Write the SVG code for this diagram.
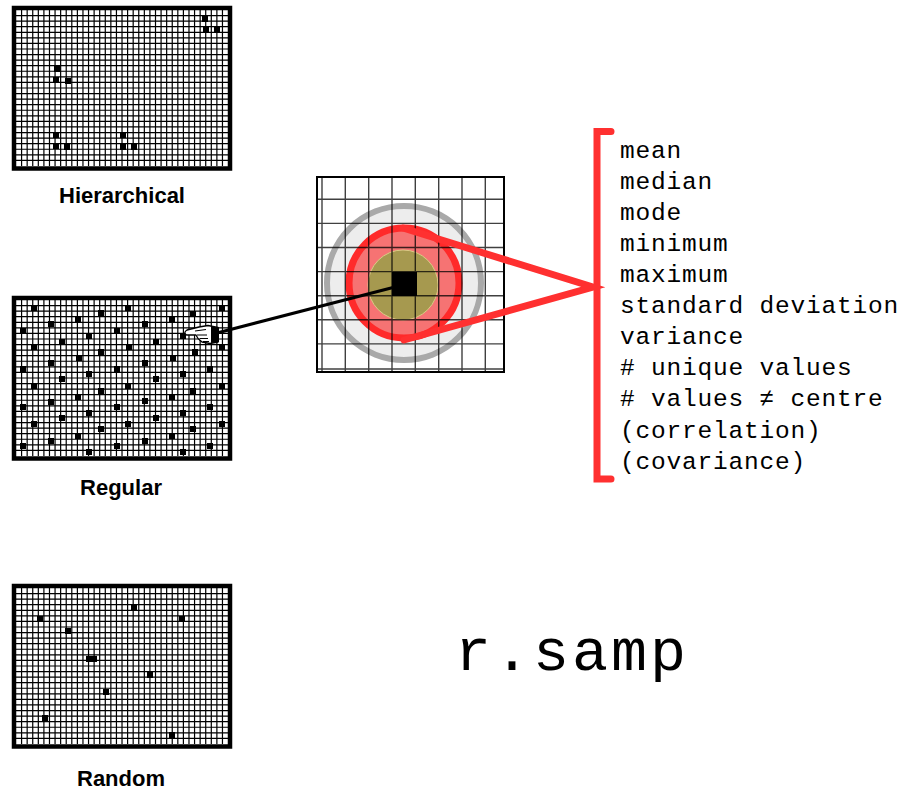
<svg xmlns="http://www.w3.org/2000/svg" xmlns:xlink="http://www.w3.org/1999/xlink" width="901" height="791" viewBox="0 0 901 791">
<style>
.gl{fill:none;stroke:#000;stroke-width:1.2}
.d{fill:#000}
.lbl{font-family:"Liberation Sans",Arial,sans-serif;font-weight:bold;font-size:22px;fill:#000;text-anchor:middle}
.mono{font-family:"Liberation Mono","Courier New",monospace;fill:#000}
.cg{fill:none;stroke:#000;stroke-width:1.4;stroke-opacity:0.75}
.red{fill:none;stroke:#ff3030;stroke-width:7;stroke-linecap:round}
</style>
<defs>
<g id="grid">
<rect x="14" y="8" width="216" height="160.5" fill="#fff"/>
<path class="gl" d="M21.58,10v156m5.58-156v156m5.58-156v156m5.58-156v156m5.58-156v156m5.58-156v156m5.58-156v156m5.58-156v156m5.58-156v156m5.58-156v156m5.58-156v156m5.58-156v156m5.58-156v156m5.58-156v156m5.58-156v156m5.58-156v156m5.58-156v156m5.58-156v156m5.58-156v156m5.58-156v156m5.58-156v156m5.58-156v156m5.58-156v156m5.58-156v156m5.58-156v156m5.58-156v156m5.58-156v156m5.58-156v156m5.58-156v156m5.58-156v156m5.58-156v156m5.58-156v156m5.58-156v156m5.58-156v156m5.58-156v156m5.58-156v156m5.58-156v156"/>
<path class="gl" d="M16,15.57h212m-212,5.57h212m-212,5.57h212m-212,5.57h212m-212,5.57h212m-212,5.57h212m-212,5.57h212m-212,5.57h212m-212,5.57h212m-212,5.57h212m-212,5.57h212m-212,5.57h212m-212,5.57h212m-212,5.57h212m-212,5.57h212m-212,5.57h212m-212,5.57h212m-212,5.57h212m-212,5.57h212m-212,5.57h212m-212,5.57h212m-212,5.57h212m-212,5.57h212m-212,5.57h212m-212,5.57h212m-212,5.57h212m-212,5.57h212"/>
<rect x="14" y="8" width="216" height="160.5" fill="none" stroke="#000" stroke-width="4.5"/>
</g>
</defs>

<g id="hierarchical">
<use xlink:href="#grid" href="#grid"/>
<g class="d">
<rect x="202" y="16" width="6" height="6"/><rect x="203" y="27" width="6" height="6"/><rect x="214" y="27" width="6" height="6"/>
<rect x="54" y="66" width="6" height="6"/><rect x="53" y="77" width="6" height="6"/><rect x="65" y="78" width="6" height="6"/>
<rect x="53" y="132" width="6" height="6"/><rect x="53" y="143" width="6" height="6"/><rect x="64" y="144" width="6" height="6"/>
<rect x="120" y="132" width="6" height="6"/><rect x="120" y="144" width="6" height="6"/><rect x="131" y="144" width="6" height="6"/>
</g>
<text class="lbl" x="122" y="203">Hierarchical</text>
</g>

<g id="regular">
<use xlink:href="#grid" href="#grid" transform="translate(0,290)"/>
<g class="d">
<rect x="31" y="305" width="6" height="6"/><rect x="98" y="310" width="6" height="6"/><rect x="125" y="305" width="6" height="6"/><rect x="190" y="311" width="6" height="6"/><rect x="219" y="305" width="6" height="6"/>
<rect x="75" y="316" width="6" height="6"/><rect x="169" y="316" width="6" height="6"/>
<rect x="48" y="321" width="6" height="6"/><rect x="142" y="321" width="6" height="6"/>
<rect x="20" y="328" width="6" height="6"/><rect x="114" y="328" width="6" height="6"/>
<rect x="86" y="333" width="6" height="6"/><rect x="180" y="333" width="6" height="6"/>
<rect x="59" y="339" width="6" height="6"/><rect x="153" y="339" width="6" height="6"/>
<rect x="31" y="344" width="6" height="6"/><rect x="126" y="344" width="6" height="6"/><rect x="219" y="344" width="6" height="6"/>
<rect x="98" y="349" width="6" height="6"/><rect x="192" y="349" width="6" height="6"/>
<rect x="76" y="355" width="6" height="6"/><rect x="170" y="355" width="6" height="6"/>
<rect x="48" y="360" width="6" height="6"/><rect x="142" y="360" width="6" height="6"/>
<rect x="20" y="366" width="6" height="6"/><rect x="114" y="366" width="6" height="6"/><rect x="207" y="366" width="6" height="6"/>
<rect x="86" y="371" width="6" height="6"/><rect x="180" y="371" width="6" height="6"/>
<rect x="59" y="376" width="6" height="6"/><rect x="153" y="376" width="6" height="6"/>
<rect x="31" y="383" width="6" height="6"/><rect x="125" y="383" width="6" height="6"/><rect x="219" y="383" width="6" height="6"/>
<rect x="98" y="388" width="6" height="6"/><rect x="190" y="388" width="6" height="6"/>
<rect x="75" y="394" width="6" height="6"/><rect x="169" y="394" width="6" height="6"/>
<rect x="48" y="399" width="6" height="6"/><rect x="142" y="398" width="6" height="6"/>
<rect x="20" y="404" width="6" height="6"/><rect x="114" y="404" width="6" height="6"/><rect x="207" y="404" width="6" height="6"/>
<rect x="86" y="410" width="6" height="6"/><rect x="180" y="410" width="6" height="6"/>
<rect x="59" y="415" width="6" height="6"/><rect x="153" y="415" width="6" height="6"/>
<rect x="31" y="421" width="6" height="6"/><rect x="125" y="421" width="6" height="6"/><rect x="219" y="421" width="6" height="6"/>
<rect x="98" y="426" width="6" height="6"/><rect x="190" y="426" width="6" height="6"/>
<rect x="75" y="433" width="6" height="6"/><rect x="169" y="433" width="6" height="6"/>
<rect x="48" y="438" width="6" height="6"/><rect x="142" y="438" width="6" height="6"/>
<rect x="20" y="443" width="6" height="6"/><rect x="114" y="443" width="6" height="6"/><rect x="207" y="443" width="6" height="6"/>
<rect x="86" y="449" width="6" height="6"/><rect x="180" y="449" width="6" height="6"/>
</g>
<g id="hand">
<path d="M218,327.5 L208,325.5 L199,327 L187,330 Q183,332.5 186.5,335 L196,335 L198,338.5 L202,342 L210,343.5 L218,342 Z" fill="#fff" stroke="#000" stroke-width="1.3" stroke-linejoin="round"/>
<path d="M197,335 L207,335 M199.5,338.5 L208,338.5 M203,341.5 L209,341.5 M195,331 L206,329.5" fill="none" stroke="#000" stroke-width="1.1"/>
<path d="M211,326.5 L219,327.5 L219,342 L211,343 Z" fill="#000"/>
</g>
<text class="lbl" x="121" y="495">Regular</text>
</g>

<g id="random">
<use xlink:href="#grid" href="#grid" transform="translate(0,578)"/>
<g class="d">
<rect x="131" y="605" width="6" height="6"/><rect x="37" y="616" width="6" height="6"/><rect x="179" y="616" width="6" height="6"/>
<rect x="65" y="628" width="6" height="6"/><rect x="86" y="656" width="11" height="6"/><rect x="147" y="672" width="6" height="6"/>
<rect x="103" y="689" width="6" height="6"/><rect x="42" y="715" width="6" height="6"/><rect x="169" y="732" width="6" height="6"/>
</g>
<text class="lbl" x="121" y="786">Random</text>
</g>

<g id="neighbourhood">
<rect x="317" y="177" width="187" height="195" fill="#fff"/>
<circle cx="404" cy="283" r="77" fill="#ededed" stroke="#a9a9a9" stroke-width="6"/>
<circle cx="404" cy="283" r="55" fill="#f67373" stroke="#ff2a2a" stroke-width="7"/>
<circle cx="403" cy="285" r="35" fill="#a6994f" stroke="#d9cb85" stroke-width="1"/>
<path class="cg" d="M322,177v195M345.3,177v195M368.7,177v195M392,177v195M415.3,177v195M438.7,177v195M462,177v195M485.3,177v195M317,199.3h187M317,223.4h187M317,247.5h187M317,271.6h187M317,295.7h187M317,319.8h187M317,343.9h187M317,369h187"/>
<rect x="317" y="177" width="187" height="195" fill="none" stroke="#000" stroke-width="2"/>
<rect x="392" y="272" width="25" height="24" fill="#000"/>
</g>

<g id="connectors">
<line x1="217" y1="333" x2="395" y2="287" stroke="#000" stroke-width="3.2"/>
<path class="red" d="M403,228 L593,287 L404,340"/>
<path class="red" d="M611,131.5 H597 V479 H611"/>
</g>

<g id="stats" class="mono" font-size="24.5" letter-spacing="0.8">
<text x="620" y="158">mean</text>
<text x="620" y="189">median</text>
<text x="620" y="220">mode</text>
<text x="620" y="251">minimum</text>
<text x="620" y="282">maximum</text>
<text x="620" y="313">standard deviation</text>
<text x="620" y="344">variance</text>
<text x="620" y="375"># unique values</text>
<text x="620" y="406"># values ≠ centre</text>
<text x="620" y="438">(correlation)</text>
<text x="620" y="469">(covariance)</text>
</g>

<g id="title">
<text class="mono" x="455" y="670" font-size="60" letter-spacing="3">r.samp</text>
</g>
</svg>
